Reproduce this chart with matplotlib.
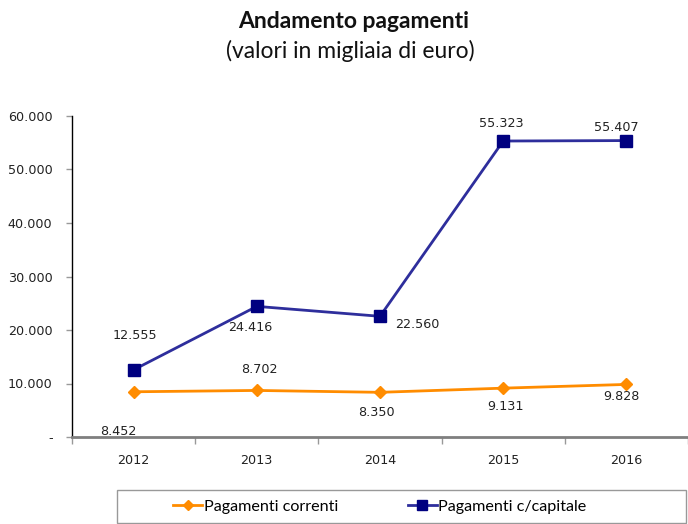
import matplotlib
matplotlib.use("Agg")
import matplotlib.pyplot as plt
from matplotlib.patches import Rectangle
from matplotlib.lines import Line2D

years = ["2012", "2013", "2014", "2015", "2016"]
correnti = [8452, 8702, 8350, 9131, 9828]
capitale = [12555, 24416, 22560, 55323, 55407]
correnti_labels = ["8.452", "8.702", "8.350", "9.131", "9.828"]
capitale_labels = ["12.555", "24.416", "22.560", "55.323", "55.407"]
y_ticks = [0, 10000, 20000, 30000, 40000, 50000, 60000]
y_tick_labels = ["-", "10.000", "20.000", "30.000", "40.000", "50.000", "60.000"]

# label offsets in pixels (dx, dy up)
corr_off = [(-15, -40), (2.5, 21), (-4, -20), (2.5, -18), (-5, -12)]
cap_off = [(1, 34), (-6.5, -21), (37, -8), (-1.5, 18), (-10, 12.6)]

W, H = 688, 524
fig = plt.figure(figsize=(W / 100, H / 100), dpi=100)
left, right, bottom, top = 72, 688, 437, 116
ax = fig.add_axes([left / W, 1 - bottom / H, (right - left) / W, (bottom - top) / H])

step = 124.5
x = list(range(len(years)))
ax.set_xlim(-0.5, -0.5 + (right - left) / step)
ax.set_ylim(0, 60000)

orange = "#FF8C00"
navy = "#000080"
line_blue = "#2E2E9C"

ax.plot(x, correnti, color=orange, lw=2.0, marker="D", markersize=6.0,
        markerfacecolor=orange, markeredgecolor=orange, zorder=3)
ax.plot(x, capitale, color=line_blue, lw=2.0, marker="s", markersize=8.0,
        markerfacecolor=navy, markeredgecolor=navy, zorder=3)

lab_font = dict(family="DejaVu Sans", size=9.2, color="#222222")
for i, (v, t) in enumerate(zip(correnti, correnti_labels)):
    ax.annotate(t, (i, v), xytext=corr_off[i], textcoords="offset pixels",
                ha="center", va="center", **lab_font)
for i, (v, t) in enumerate(zip(capitale, capitale_labels)):
    ax.annotate(t, (i, v), xytext=cap_off[i], textcoords="offset pixels",
                ha="center", va="center", **lab_font)

ax.set_yticks(y_ticks)
ax.set_yticklabels(y_tick_labels, fontsize=9.2, color="#222222", family="DejaVu Sans")
ax.set_xticks(x)
ax.set_xticklabels(years, fontsize=9.2, color="#222222", family="DejaVu Sans")
ax.set_xticks([i - 0.5 for i in range(len(years) + 1)], minor=True)
ax.tick_params(axis="x", which="major", length=0, pad=12)
ax.tick_params(axis="x", which="minor", length=5, color="#999999", width=1)
ax.tick_params(axis="y", length=4, color="#999999", width=1, pad=10)

for s in ["top", "right"]:
    ax.spines[s].set_visible(False)
ax.spines["left"].set_color("#000000")
ax.spines["left"].set_linewidth(1.0)
ax.spines["bottom"].set_color("#7f7f7f")
ax.spines["bottom"].set_linewidth(2.0)

fig.text(354 / W, 1 - 22 / H, "Andamento pagamenti", ha="center", va="center",
         fontsize=16.5, fontweight="bold", family="Lato", color="#111111")
fig.text(350 / W, 1 - 51 / H, "(valori in migliaia di euro)", ha="center", va="center",
         fontsize=16.5, family="Lato", color="#111111")

# legend box
fig.patches.append(Rectangle((117 / W, 1 - 523 / H), (686 - 117) / W, 33 / H,
                             transform=fig.transFigure, fill=False,
                             edgecolor="#999999", lw=1.0))
handles = [
    Line2D([], [], color=orange, lw=2.0, marker="D", markersize=5.5, markerfacecolor=orange),
    Line2D([], [], color=line_blue, lw=2.0, marker="s", markersize=7, markerfacecolor=navy, markeredgecolor=navy),
]
fig.legend(handles, ["Pagamenti correnti", "Pagamenti c/capitale"], loc="center",
           bbox_to_anchor=(380 / W, 1 - 507 / H), ncol=2, frameon=False,
           handlelength=1.8, handletextpad=0.1, columnspacing=4.3,
           prop=dict(family="Lato", size=11.6))

fig.savefig("out.png", dpi=100)
